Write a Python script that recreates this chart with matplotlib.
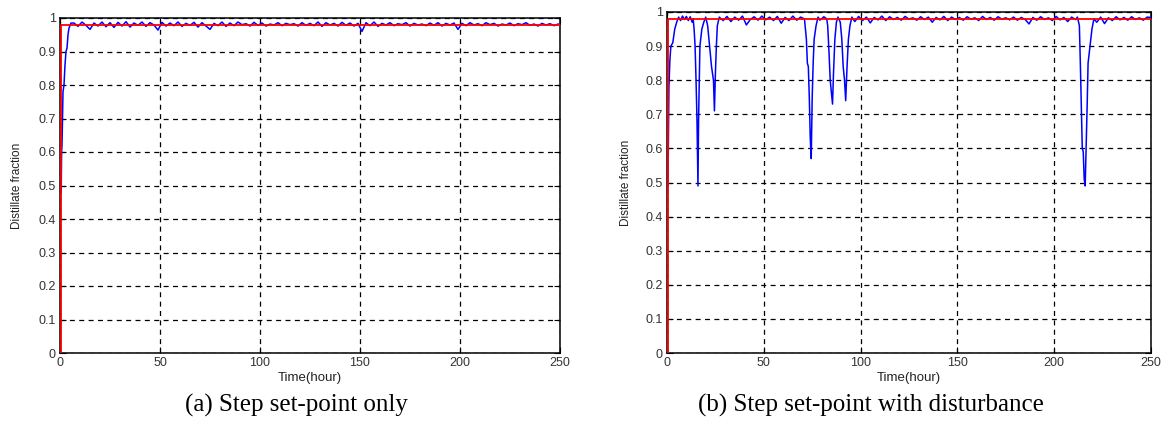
import numpy as np
import matplotlib
matplotlib.use("Agg")
import matplotlib.pyplot as plt

# ---------------- data ----------------
# set-point (red), both panels
sp_t = [0.0, 0.5, 0.5, 250.0]
sp_y = [0.0, 0.0, 0.98, 0.98]

# panel (a): start-up transient then small oscillation
a_start_t = [0.6, 0.8, 1.0, 1.5, 2.0, 2.5, 3.0, 3.5, 4.0, 4.5, 5.5]
a_start_y = [0.48, 0.60, 0.62, 0.78, 0.80, 0.86, 0.90, 0.91, 0.95, 0.97, 0.985]
a_noise_t0 = 7.0      # first sample of the steady part
a_noise_dt = 2.0      # sample spacing (hours)
a_noise_y = [
    0.985, 0.975, 0.988, 0.978, 0.966, 0.985, 0.976, 0.988, 0.974, 0.986,
    0.972, 0.987, 0.976, 0.989, 0.973, 0.985, 0.978, 0.988, 0.975, 0.986,
    0.979, 0.964, 0.987, 0.976, 0.985, 0.977, 0.988, 0.975, 0.984, 0.978,
    0.987, 0.973, 0.986, 0.976, 0.966, 0.984, 0.977, 0.988, 0.975, 0.985,
    0.977, 0.988, 0.980, 0.983, 0.976, 0.987, 0.978, 0.985, 0.976, 0.982,
    0.979, 0.986, 0.977, 0.984, 0.980, 0.983, 0.976, 0.986, 0.978, 0.984,
    0.977, 0.988, 0.975, 0.986, 0.979, 0.984, 0.976, 0.987, 0.978, 0.985,
    0.976, 0.984, 0.960, 0.986, 0.977, 0.988, 0.975, 0.984, 0.979, 0.986,
    0.977, 0.983, 0.980, 0.986, 0.976, 0.984, 0.979, 0.982, 0.977, 0.985,
    0.978, 0.986, 0.976, 0.984, 0.979, 0.985, 0.966, 0.984, 0.977, 0.986,
    0.979, 0.983, 0.977, 0.986, 0.980, 0.984, 0.976, 0.982, 0.979, 0.985,
    0.977, 0.983, 0.980, 0.986, 0.978, 0.982, 0.976, 0.984, 0.979, 0.983,
    0.977, 0.982,
]

# panel (b): with disturbances (irregular sample times)
b_t = [
    0.5, 0.7, 1.0, 1.5, 2.0, 3.0, 4.0, 5.0, 6.0, 7.0,
    8.0, 9.0, 10.0, 11.0, 12.0, 13.0,
    13.5, 14.0, 14.5, 15.0, 15.5, 16.0, 16.3, 17.0, 18.0, 19.0, 20.0,
    21.0, 22.0, 23.0, 24.0, 24.5, 25.0, 25.5, 26.0, 27.0,
    29, 31, 33, 35, 37, 39, 41, 43, 45, 47, 49, 51, 53, 55, 57, 59, 61, 63, 65, 67, 69,
    71.0, 72.0, 72.5, 73.0, 73.5, 74.0, 74.5, 75.0, 75.5, 76.0, 77.0, 78.0,
    79.0, 81.0, 82.5,
    83.0, 83.7, 84.3, 85.0, 85.5, 86.0, 86.7, 87.5, 88.3,
    89.5, 90.3, 91.0, 91.7, 92.3, 93.0, 93.7, 94.5, 95.5,
    97, 99, 101, 103, 105, 107, 109, 111, 113, 115, 117, 119, 121, 123, 125,
    127, 129, 131, 133, 135, 137, 139, 141, 143, 145, 147, 149, 151, 153, 155,
    157, 159, 161, 163, 165, 167, 169, 171, 173, 175, 177, 179, 181, 183, 185,
    187, 189, 191, 193, 195, 197, 199, 201, 203, 205, 207, 209, 211,
    212.0, 213.0, 213.5, 214.0, 214.5, 215.0, 215.5, 216.0, 216.5, 217.0, 217.5,
    218.5, 219.5, 220.5,
    222, 224, 226, 228, 230, 232, 234, 236, 238, 240, 242, 244, 246, 248, 250,
]
b_y = [
    0.49, 0.60, 0.78, 0.86, 0.90, 0.91, 0.95, 0.97, 0.985, 0.975,
    0.988, 0.978, 0.987, 0.975, 0.986, 0.970,
    0.980, 0.950, 0.900, 0.800, 0.680, 0.490, 0.680, 0.900, 0.950, 0.970, 0.985,
    0.960, 0.900, 0.840, 0.800, 0.710, 0.820, 0.900, 0.960, 0.985,
    0.975, 0.987, 0.972, 0.985, 0.976, 0.988, 0.962, 0.978, 0.986, 0.976, 0.988,
    0.977, 0.985, 0.975, 0.987, 0.967, 0.984, 0.975, 0.988, 0.976, 0.985,
    0.980, 0.920, 0.850, 0.840, 0.750, 0.630, 0.570, 0.750, 0.850, 0.920, 0.960, 0.985,
    0.976, 0.986, 0.980,
    0.960, 0.880, 0.800, 0.760, 0.730, 0.820, 0.920, 0.970, 0.985,
    0.970, 0.920, 0.840, 0.800, 0.740, 0.840, 0.920, 0.960, 0.985,
    0.972, 0.987, 0.975, 0.985, 0.968, 0.984, 0.977, 0.988, 0.975, 0.986,
    0.978, 0.984, 0.976, 0.987, 0.979,
    0.983, 0.976, 0.986, 0.978, 0.985, 0.970, 0.984, 0.977, 0.987, 0.975,
    0.985, 0.978, 0.984, 0.976, 0.986,
    0.979, 0.983, 0.975, 0.987, 0.978, 0.984, 0.976, 0.986, 0.979, 0.983,
    0.977, 0.985, 0.976, 0.984, 0.978,
    0.965, 0.984, 0.976, 0.986, 0.978, 0.983, 0.975, 0.987, 0.977, 0.984,
    0.972, 0.985, 0.978,
    0.985, 0.960, 0.850, 0.720, 0.600, 0.590, 0.510, 0.490, 0.600, 0.720, 0.850,
    0.900, 0.950, 0.980,
    0.970, 0.985, 0.966, 0.983, 0.975, 0.986, 0.977, 0.984, 0.976, 0.986,
    0.978, 0.983, 0.976, 0.985, 0.984,
]

x_ticks = [0, 50, 100, 150, 200, 250]
y_ticks = [0, 0.1, 0.2, 0.3, 0.4, 0.5, 0.6, 0.7, 0.8, 0.9, 1]
y_ticklabels = ["0", "0.1", "0.2", "0.3", "0.4", "0.5", "0.6", "0.7", "0.8", "0.9", "1"]
x_label = "Time(hour)"
y_label = "Distillate fraction"
captions = ["(a) Step set-point only", "(b) Step set-point with disturbance"]

# ---------------- figure ----------------
W, H = 1171, 430
fig = plt.figure(figsize=(W / 100, H / 100), dpi=100)
fig.patch.set_facecolor("white")

sans = ["Liberation Sans", "DejaVu Sans"]
serif = ["Liberation Serif", "DejaVu Serif"]

def px(l, t, r, b):
    return [l / W, 1 - b / H, (r - l) / W, (b - t) / H]

ax_a = fig.add_axes(px(60, 18, 560, 353))
ax_b = fig.add_axes(px(667, 12, 1151, 353))

a_t = a_start_t + [a_noise_t0 + a_noise_dt * i for i in range(len(a_noise_y))]
a_y = a_start_y + a_noise_y

ylab_x = [(23 - 60) / 500, (632 - 667) / 484]

for k, (ax, (tt, yy)) in enumerate(zip([ax_a, ax_b], [(a_t, a_y), (b_t, b_y)])):
    ax.plot(tt, yy, color="#0000ff", lw=1.1, zorder=3)
    ax.plot(sp_t, sp_y, color="#ff0000", lw=1.3, zorder=4)
    ax.set_xlim(0, 250)
    ax.set_ylim(0, 1)
    ax.set_xticks(x_ticks)
    ax.set_yticks(y_ticks)
    ax.set_yticklabels(y_ticklabels)
    ax.grid(True, color="black", linestyle=(0, (4, 3.5)), lw=0.9)
    ax.tick_params(direction="in", length=4, width=0.8, top=True, right=True,
                   labelsize=9, labelcolor="#333333", pad=3)
    for lab in ax.get_xticklabels() + ax.get_yticklabels():
        lab.set_family(sans)
    for s in ax.spines.values():
        s.set_linewidth(1.1)
        s.set_color("black")
    ax.set_xlabel(x_label, family=sans, fontsize=9.5, color="#222222", labelpad=2)
    ax.set_ylabel(y_label, family=sans, fontsize=8.5, color="#222222")
    ax.yaxis.set_label_coords(ylab_x[k], 0.5)

fig.text(296 / W, 1 - 405 / H, captions[0], family=serif, fontsize=18,
         ha="center", va="center")
fig.text(871 / W, 1 - 405 / H, captions[1], family=serif, fontsize=18,
         ha="center", va="center")

fig.savefig("out.png", dpi=100)
